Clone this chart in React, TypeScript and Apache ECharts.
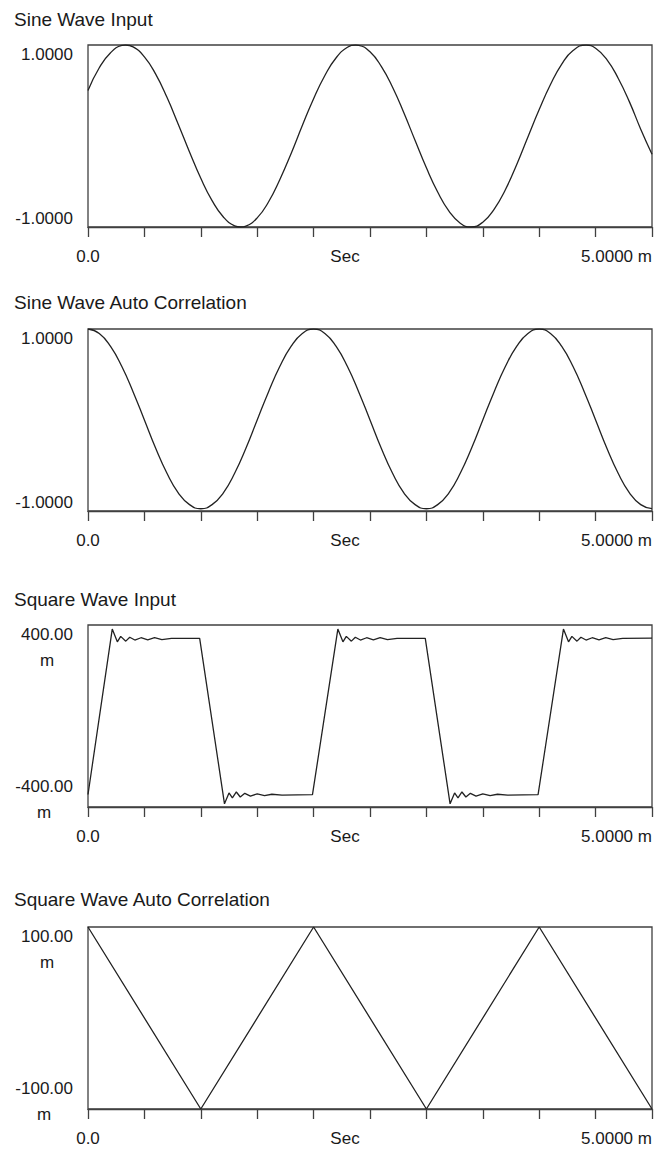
import React, { useEffect, useRef } from 'react';
import * as echarts from 'echarts';

const titles = ['Sine Wave Input', 'Sine Wave Auto Correlation', 'Square Wave Input', 'Square Wave Auto Correlation'];
const xTickLabels = ['0.0', 'Sec', '5.0000 m'];
const xMin = 0;
const xMax = 5;
const xStep = 0.5;
const yMaxLabels = ['1.0000', '1.0000', '400.00\nm', '100.00\nm'];
const yMinLabels = ['-1.0000', '-1.0000', '-400.00\nm', '-100.00\nm'];
const yMins = [-1, -1, -400, -100];
const yMaxs = [1, 1, 400, 100];
const ySteps = [1, 1, 400, 100];

const sineInput = [
  [0.0, 0.5], [0.1, 0.75], [0.2, 0.915], [0.3, 0.995], [0.333, 1.0], [0.4, 0.98], [0.5, 0.87], [0.6, 0.68], [0.7, 0.425],
  [0.8, 0.13], [0.9, -0.175], [1.0, -0.465], [1.1, -0.71], [1.2, -0.89], [1.3, -0.987], [1.354, -1.0], [1.4, -0.99], [1.5, -0.9],
  [1.6, -0.725], [1.7, -0.48], [1.8, -0.195], [1.9, 0.115], [2.0, 0.41], [2.1, 0.665], [2.2, 0.86], [2.3, 0.975],
  [2.374, 1.0], [2.4, 0.997], [2.5, 0.925], [2.6, 0.765], [2.7, 0.535], [2.8, 0.255], [2.9, -0.05], [3.0, -0.35], [3.1, -0.615],
  [3.2, -0.825], [3.3, -0.958], [3.395, -1.0], [3.5, -0.947], [3.6, -0.805], [3.7, -0.59], [3.8, -0.315], [3.9, -0.01],
  [4.0, 0.29], [4.1, 0.565], [4.2, 0.79], [4.3, 0.94], [4.416, 1.0], [4.5, 0.965], [4.6, 0.84], [4.7, 0.635],
  [4.8, 0.375], [4.9, 0.075], [5.0, -0.2],
];

const sineAuto = [
  [0.0, 1.0], [0.1, 0.951], [0.2, 0.809], [0.3, 0.588], [0.4, 0.309], [0.5, 0.0], [0.6, -0.31], [0.7, -0.585],
  [0.8, -0.8], [0.9, -0.93], [1.0, -0.975], [1.1, -0.93], [1.2, -0.8], [1.3, -0.585], [1.4, -0.31], [1.5, 0.0],
  [1.6, 0.309], [1.7, 0.588], [1.8, 0.809], [1.9, 0.951], [2.0, 1.0], [2.1, 0.951], [2.2, 0.809], [2.3, 0.588],
  [2.4, 0.309], [2.5, 0.0], [2.6, -0.31], [2.7, -0.585], [2.8, -0.8], [2.9, -0.93], [3.0, -0.975], [3.1, -0.93],
  [3.2, -0.8], [3.3, -0.585], [3.4, -0.31], [3.5, 0.0], [3.6, 0.309], [3.7, 0.588], [3.8, 0.809], [3.9, 0.951],
  [4.0, 1.0], [4.1, 0.951], [4.2, 0.809], [4.3, 0.588], [4.4, 0.309], [4.5, 0.0], [4.6, -0.31], [4.7, -0.585],
  [4.8, -0.8], [4.9, -0.93], [5.0, -0.975],
];

const squareInput = [
  [0.0, -345], [0.215, 382], [0.26, 326], [0.29, 350], [0.335, 329], [0.37, 346], [0.415, 334], [0.47, 344],
  [0.53, 335], [0.59, 344], [0.655, 336], [0.74, 341], [0.99, 341],
  [1.21, -386], [1.25, -338], [1.28, -360], [1.315, -334], [1.35, -356], [1.39, -340], [1.44, -352], [1.5, -342],
  [1.565, -350], [1.63, -344], [1.72, -348], [1.99, -346],
  [2.215, 382], [2.26, 326], [2.29, 350], [2.335, 329], [2.37, 346], [2.415, 334], [2.47, 344],
  [2.53, 335], [2.59, 344], [2.655, 336], [2.74, 341], [2.99, 341],
  [3.21, -386], [3.25, -338], [3.28, -360], [3.315, -334], [3.35, -356], [3.39, -340], [3.44, -352], [3.5, -342],
  [3.565, -350], [3.63, -344], [3.72, -348], [3.99, -346],
  [4.215, 382], [4.26, 326], [4.29, 350], [4.335, 329], [4.37, 346], [4.415, 334], [4.47, 344],
  [4.53, 335], [4.59, 344], [4.655, 336], [4.74, 341], [5.0, 342],
];

const squareAuto = [[0, 100], [1, -100], [2, 100], [3, -100], [4, 100], [5, -100]];

const seriesData = [sineInput, sineAuto, squareInput, squareAuto];
const smoothing: (number | boolean)[] = [0.5, 0.5, false, false];

// layout
const gridTops = [45, 329, 625, 927];
const gridHeight = 182;
const titleTops = [10, 293, 590, 890];
const FONT = "'Liberation Sans', Arial, Helvetica, sans-serif";
const TXT = '#1a1a1a';
const LINE = '#404040';

const tok = (extra: any = {}) => ({ fontSize: 17, fontFamily: FONT, color: TXT, ...extra });

export default function App() {
  const ref = useRef<HTMLDivElement>(null);
  useEffect(() => {
    if (!ref.current) return;
    const chart = echarts.init(ref.current, undefined, { renderer: 'svg' });
    const grids: any[] = [];
    const xAxes: any[] = [];
    const yAxes: any[] = [];
    const series: any[] = [];
    const titleArr: any[] = [];
    for (let i = 0; i < 4; i++) {
      titleArr.push({
        text: titles[i],
        left: 14,
        top: titleTops[i],
        padding: 0,
        textStyle: { fontSize: 19, fontWeight: 'normal', fontFamily: FONT, color: TXT },
      });
      grids.push({
        left: 88,
        width: 564,
        top: gridTops[i],
        height: gridHeight,
        show: true,
        borderColor: LINE,
        borderWidth: 1.3,
        backgroundColor: 'transparent',
      });
      xAxes.push({
        type: 'value',
        gridIndex: i,
        min: xMin,
        max: xMax,
        interval: xStep,
        name: xTickLabels[1],
        nameLocation: 'middle',
        nameGap: 21,
        nameMoveOverlap: false,
        nameTextStyle: {
          fontSize: 17,
          fontFamily: FONT,
          color: TXT,
          verticalAlign: 'top',
          padding: [0, 50, 0, 0],
        },
        axisLine: { show: true, onZero: false, lineStyle: { color: LINE, width: 1.3 } },
        axisTick: { show: true, inside: false, length: 10, lineStyle: { color: LINE, width: 1.3 } },
        splitLine: { show: false },
        axisLabel: {
          margin: 21,
          formatter: (v: number) =>
            v === xMin ? `{l|${xTickLabels[0]}}` : v === xMax ? `{r|${xTickLabels[2]}}` : '',
          rich: {
            l: tok(),
            r: tok({ padding: [0, 71, 0, 0] }),
          },
        },
      });
      const twoLine = yMaxLabels[i].includes('\n');
      yAxes.push({
        type: 'value',
        gridIndex: i,
        min: yMins[i],
        max: yMaxs[i],
        interval: ySteps[i],
        axisLine: { show: false, onZero: false },
        axisTick: { show: false },
        splitLine: { show: false },
        axisLabel: {
          margin: 15,
          verticalAlign: 'middle',
          formatter: (v: number) => {
            if (v === yMaxs[i]) {
              if (twoLine) {
                const [a, b] = yMaxLabels[i].split('\n');
                return `{ma|${a}}\n{mb|${b}}`;
              }
              return `{ms|${yMaxLabels[i]}}`;
            }
            if (v === yMins[i]) {
              if (twoLine) {
                const [a, b] = yMinLabels[i].split('\n');
                return `{na|${a}}\n{nb|${b}}`;
              }
              return `{ns|${yMinLabels[i]}}`;
            }
            return '';
          },
          rich: {
            ms: tok({ padding: [18, 0, 0, 0] }),
            ns: tok({ padding: [0, 0, 18, 0] }),
            ma: tok({ padding: [44, 0, 0, 0] }),
            mb: tok({ padding: [9, 0, 0, 0], align: 'center' }),
            na: tok(),
            nb: tok({ padding: [9, 0, 16, 0], align: 'center' }),
          },
        },
      });
      series.push({
        type: 'line',
        xAxisIndex: i,
        yAxisIndex: i,
        data: seriesData[i],
        showSymbol: false,
        symbol: 'none',
        smooth: smoothing[i],
        lineStyle: { color: '#222', width: 1.3 },
        silent: true,
      });
    }
    chart.setOption({
      animation: false,
      backgroundColor: '#fff',
      title: titleArr,
      grid: grids,
      xAxis: xAxes,
      yAxis: yAxes,
      series,
    });
    return () => chart.dispose();
  }, []);
  return (
    <div
      ref={ref}
      style={{ position: 'absolute', left: 0, top: 0, width: 661, height: 1149, background: '#fff' }}
    />
  );
}
